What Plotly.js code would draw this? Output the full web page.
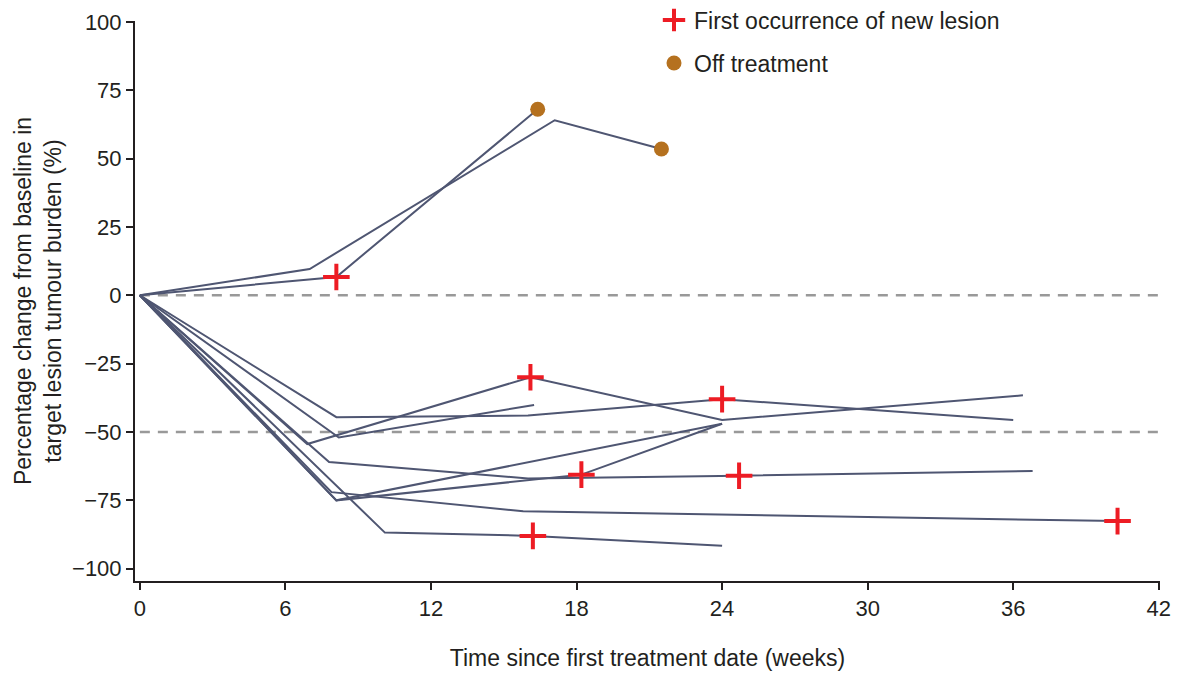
<!DOCTYPE html>
<html>
<head>
<meta charset="utf-8">
<script src="https://cdn.plot.ly/plotly-3.0.1.min.js"></script>
<style>
  html, body { margin: 0; padding: 0; background: #ffffff; }
  #chart { width: 1179px; height: 673px; }
</style>
</head>
<body>
<div id="chart"></div>
<script>
// ---- Data: weeks since first treatment and % change from baseline, one pair per patient ----
const weeksA = [0, 7.0, 17.1, 21.5];
const valuesA = [0, 9.6, 64.0, 53.5];
const weeksB = [0, 8.1, 16.4];
const valuesB = [0, 6.7, 68.0];
const weeksC = [0, 8.1, 16.0, 24.0, 36.0];
const valuesC = [0, -44.6, -44.0, -38.0, -45.6];
const weeksD = [0, 6.9, 16.1, 24.0, 36.4];
const valuesD = [0, -54.4, -30.0, -45.6, -36.6];
const weeksE = [0, 8.2, 16.25];
const valuesE = [0, -52.0, -40.1];
const weeksF = [0, 7.8, 16.0, 24.7, 36.8];
const valuesF = [0, -61.0, -67.0, -66.0, -64.3];
const weeksG = [0, 7.9, 15.8, 40.3];
const valuesG = [0, -72.0, -79.0, -82.6];
const weeksH = [0, 8.1, 24.0];
const valuesH = [0, -75.0, -47.0];
const weeksI = [0, 8.1, 18.2, 24.0];
const valuesI = [0, -75.0, -65.6, -47.0];
const weeksJ = [0, 10.1, 16.2, 24.0];
const valuesJ = [0, -86.8, -88.0, -91.6];

const patientWeeks = [weeksA, weeksB, weeksC, weeksD, weeksE, weeksF, weeksG, weeksH, weeksI, weeksJ];
const patientValues = [valuesA, valuesB, valuesC, valuesD, valuesE, valuesF, valuesG, valuesH, valuesI, valuesJ];

// First occurrence of new lesion
const lesionWeeks = [8.1, 16.1, 24.0, 18.2, 24.7, 16.2, 40.3];
const lesionValues = [6.7, -30.0, -38.0, -65.6, -66.0, -88.0, -82.6];
// Off treatment
const offWeeks = [16.4, 21.5];
const offValues = [68.0, 53.5];

// Reference lines
const refLevels = [0, -50];

// Axis ticks
const xTicks = [0, 6, 12, 18, 24, 30, 36, 42];
const yTicks = [100, 75, 50, 25, 0, -25, -50, -75, -100];

const lineColor = '#4f5672';
const axisColor = '#231f20';
const fontFam = '"Liberation Sans", Arial, Helvetica, sans-serif';

const traces = [];
for (let i = 0; i < patientWeeks.length; i++) {
  traces.push({
    type: 'scatter', mode: 'lines',
    x: patientWeeks[i], y: patientValues[i],
    line: { color: lineColor, width: 2 },
    showlegend: false, hoverinfo: 'skip'
  });
}
traces.push({
  type: 'scatter', mode: 'markers',
  x: lesionWeeks, y: lesionValues,
  name: 'First occurrence of new lesion',
  marker: { symbol: 'cross-thin', size: 19, color: '#ed1c24', line: { color: '#ed1c24', width: 4 } },
  legend: 'legend'
});
traces.push({
  type: 'scatter', mode: 'markers',
  x: offWeeks, y: offValues,
  name: 'Off treatment',
  marker: { symbol: 'circle', size: 15, color: '#b5711f' },
  legend: 'legend2'
});

const shapes = refLevels.map(v => ({
  type: 'line', xref: 'x', yref: 'y',
  x0: 0, x1: 42, y0: v, y1: v,
  line: { color: '#999999', width: 2.5, dash: '10px,8px' },
  layer: 'below'
}));

const plotL = 135, plotR = 1160, plotT = 21, plotB = 581;
const pw = plotR - plotL, ph = plotB - plotT;

const layout = {
  width: 1179, height: 673,
  paper_bgcolor: '#ffffff', plot_bgcolor: '#ffffff',
  margin: { l: plotL, r: 1179 - plotR, t: plotT, b: 673 - plotB, autoexpand: false },
  font: { family: fontFam, size: 20, color: '#231f20' },
  xaxis: {
    range: [-0.2, 42.05], tickvals: xTicks, ticktext: xTicks.map(String),
    showgrid: false, zeroline: false,
    showline: true, linecolor: axisColor, linewidth: 2,
    ticks: 'outside', ticklen: 7, tickwidth: 2, tickcolor: axisColor,
    tickfont: { size: 22, family: fontFam, color: '#231f20' },
    title: { text: 'Time since first treatment date (weeks)', font: { size: 23, family: fontFam, color: '#231f20' }, standoff: 29 },
    automargin: false
  },
  yaxis: {
    range: [-104.5, 100.3], tickvals: yTicks, ticktext: yTicks.map(v => v < 0 ? '\u2212' + Math.abs(v) : String(v)),
    showgrid: false, zeroline: false,
    showline: true, linecolor: axisColor, linewidth: 2,
    ticks: 'outside', ticklen: 7, tickwidth: 2, tickcolor: axisColor,
    tickfont: { size: 22, family: fontFam, color: '#231f20' },
    title: { text: 'Percentage change from baseline in<br>target lesion tumour burden (%)', font: { size: 23, family: fontFam, color: '#231f20' }, standoff: 4 },
    automargin: false
  },
  shapes: shapes,
  legend: {
    x: (654 - plotL) / pw, y: (plotB - 20) / ph, xanchor: 'left', yanchor: 'middle',
    bgcolor: 'rgba(0,0,0,0)', borderwidth: 0,
    font: { size: 23, family: fontFam, color: '#231f20' }
  },
  legend2: {
    x: (654 - plotL) / pw, y: (plotB - 63) / ph, xanchor: 'left', yanchor: 'middle',
    bgcolor: 'rgba(0,0,0,0)', borderwidth: 0,
    font: { size: 23, family: fontFam, color: '#231f20' }
  },
  showlegend: true
};

Plotly.newPlot('chart', traces, layout, { staticPlot: true, displayModeBar: false });
</script>
</body>
</html>
